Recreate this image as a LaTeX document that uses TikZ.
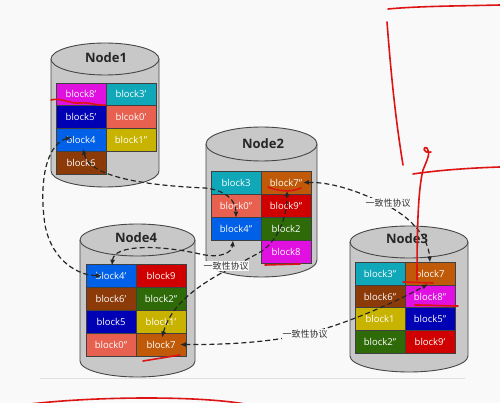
\documentclass[tikz,border=0pt]{standalone}
\usepackage{fontspec}
\setmainfont{Open Sans}
\newfontfamily\cjk{Noto Sans CJK SC}
\usetikzlibrary{arrows.meta}
\definecolor{bgc}{RGB}{249,249,249}
\definecolor{cylgray}{RGB}{200,200,200}
\definecolor{cyledge}{RGB}{70,70,70}
\definecolor{cmag}{RGB}{224,16,224}
\definecolor{cteal}{RGB}{16,168,184}
\definecolor{cdblue}{RGB}{0,0,180}
\definecolor{csalmon}{RGB}{232,96,80}
\definecolor{cblue}{RGB}{0,96,232}
\definecolor{cyel}{RGB}{200,180,0}
\definecolor{cbrown}{RGB}{139,58,8}
\definecolor{corange}{RGB}{192,90,8}
\definecolor{cred}{RGB}{208,0,0}
\definecolor{cgreen}{RGB}{46,106,8}
\definecolor{scrib}{RGB}{222,20,20}
\tikzset{
  cell/.style={rectangle, draw=black!75, line width=0.6pt, minimum width=50pt, minimum height=23pt, inner sep=0pt, text=white, font=\fontsize{9.5}{11}\selectfont},
  title/.style={font=\bfseries\fontsize{13}{14}\selectfont, text=black!85, inner sep=0pt},
  link/.style={draw=black!85, line width=1.2pt, dash pattern=on 5pt off 3pt, {Latex[length=6pt,width=5pt]}-{Latex[length=6pt,width=5pt]}},
  lbl/.style={fill=bgc, inner sep=0.6pt, text=black!80, font=\cjk\fontsize{9}{10}\selectfont},
  redpen/.style={draw=scrib, line width=1.6pt, line cap=round, line join=round},
  cylbody/.style={fill=cylgray, draw=cyledge, line width=0.9pt}
}
\begin{document}
\begin{tikzpicture}[x=1pt,y=-1pt]
\useasboundingbox (0,0) rectangle (500,403);
\fill[bgc] (0,0) rectangle (500,403);
\draw[gray!25, line width=0.6pt] (40,378) -- (465,378);

% cylinders
% Node1
\path[cylbody] (51,59) -- (51,171) arc[start angle=180,end angle=360,x radius=54pt,y radius=16pt] -- (159,59);
\draw[cylbody] (105,59) ellipse[x radius=54pt,y radius=16pt];
\node[title] (t1) at (106,58) {Node1};
% Node2
\path[cylbody] (206,144) -- (206,260) arc[start angle=180,end angle=360,x radius=55.5pt,y radius=17pt] -- (317,144);
\draw[cylbody] (261.5,144) ellipse[x radius=55.5pt,y radius=17pt];
\node[title] (t2) at (263,144) {Node2};
% Node4
\path[cylbody] (80,240) -- (80,361) arc[start angle=180,end angle=360,x radius=57.5pt,y radius=16pt] -- (195,240);
\draw[cylbody] (137.5,240) ellipse[x radius=57.5pt,y radius=16pt];
\node[title] (t4) at (136,238) {Node4};
% Node3
\path[cylbody] (350,242) -- (350,356) arc[start angle=180,end angle=360,x radius=59pt,y radius=16pt] -- (468,242);
\draw[cylbody] (409,242) ellipse[x radius=59pt,y radius=16pt];
\node[title] (t3) at (407,239) {Node3};

% Node1 cells
\node[cell, fill=cmag]    (n1a) at (81,94.4)  {block8'};
\node[cell, fill=cteal]   (n1b) at (131,94.4) {block3'};
\node[cell, fill=cdblue]  (n1c) at (81,117.1) {block5'};
\node[cell, fill=csalmon] (n1d) at (131,117.1) {blcok0'};
\node[cell, fill=cblue]   (n1e) at (81,139.9) {block4};
\node[cell, fill=cyel]    (n1f) at (131,139.9) {block1''};
\node[cell, fill=cbrown]  (n1g) at (81,162.6) {block6};
% Node2 cells
\node[cell, fill=cteal]   (n2a) at (236,182.5) {block3};
\node[cell, fill=corange] (n2b) at (286,182.5) {block7''};
\node[cell, fill=csalmon] (n2c) at (236,205.5) {block0''};
\node[cell, fill=cred]    (n2d) at (286,205.5) {block9''};
\node[cell, fill=cblue]   (n2e) at (236,228.5) {block4''};
\node[cell, fill=cgreen]  (n2f) at (286,228.5) {block2};
\node[cell, fill=cmag]    (n2g) at (286,251.5) {block8};
% Node4 cells
\node[cell, fill=cblue]   (n4a) at (111,275.5) {block4'};
\node[cell, fill=cred]    (n4b) at (161,275.5) {block9};
\node[cell, fill=cbrown]  (n4c) at (111,298.5) {block6'};
\node[cell, fill=cgreen]  (n4d) at (161,298.5) {block2''};
\node[cell, fill=cdblue]  (n4e) at (111,321.5) {block5};
\node[cell, fill=cyel]    (n4f) at (161,321.5) {block1'};
\node[cell, fill=csalmon] (n4g) at (111,344.5) {block0''};
\node[cell, fill=corange] (n4h) at (161,344.5) {block7};
% Node3 cells
\node[cell, fill=cteal]   (n3a) at (380,274.25) {block3''};
\node[cell, fill=corange] (n3b) at (430,274.25) {block7};
\node[cell, fill=cbrown]  (n3c) at (380,296.75) {block6''};
\node[cell, fill=cmag]    (n3d) at (430,296.75) {block8''};
\node[cell, fill=cyel]    (n3e) at (380,319.25) {block1};
\node[cell, fill=cdblue]  (n3f) at (430,319.25) {block5''};
\node[cell, fill=cgreen]  (n3g) at (380,341.75) {block2''};
\node[cell, fill=cred]    (n3h) at (430,341.75) {block9'};

% connectors
\draw[link] ([shift={(2,-3)}]n1e.south) .. controls (90,180) and (160,186) .. (205,188) .. controls (225,190) and (236,200) .. ([shift={(0,1)}]n2e.north);
\draw[link] ([shift={(-9,-3)}]n1e.center) .. controls (45,145) and (39,185) .. (45,225) .. controls (52,262) and (80,276) .. ([shift={(-9,0)}]n4a.center);
\draw[link] ([shift={(1,2)}]n4a.north) .. controls (114,244) and (160,245) .. (200,254) .. controls (222,259) and (232,252) .. ([shift={(-3,0)}]n2e.south);
\draw[link] ([shift={(1,-7)}]n4h.center) .. controls (175,290) and (230,270) .. (262,251) .. controls (280,238) and (287,215) .. ([shift={(1,8)}]n2b.center);
\draw[link] ([shift={(17,0)}]n2b.center) .. controls (330,182) and (355,190) .. (378,201) .. controls (408,214) and (428,235) .. (n3b.north);
\draw[link] ([shift={(19,0)}]n4h.center) .. controls (240,345) and (280,340) .. (305,334) .. controls (345,325) and (400,300) .. ([shift={(-2,-2)}]n3b.south);

% labels
\node[lbl] (l1) at (226,266) {一致性协议};
\node[lbl] (l2) at (388,203) {一致性协议};
\node[lbl] (l3) at (305,334) {一致性协议};

% red annotations
\draw[redpen] (51,100) .. controls (60,97) and (70,104) .. (80,103) .. controls (90,102) and (98,106) .. (105,105);
\draw[redpen] (268,187) .. controls (280,192) and (292,192) .. (301,188);
\draw[redpen] (265,265) -- (300,264);
\draw[redpen] (143,361) -- (180,355);
\draw[redpen] (388,9) .. controls (420,6) and (460,6) .. (500,5);
\draw[redpen] (387,22) .. controls (390,60) and (394,110) .. (403,165);
\draw[redpen] (413,174) .. controls (440,170) and (470,168) .. (500,167);
\draw[redpen] (417,280) .. controls (417,230) and (418,190) .. (423,170) .. controls (427,160) and (431,153) .. (427,148) .. controls (423,145) and (422,154) .. (431,152);
\draw[redpen] (403,282) -- (433,283);
\draw[redpen] (415,305) .. controls (430,305) and (445,306) .. (458,306);
\draw[redpen] (30,404) .. controls (100,396) and (200,396) .. (245,404);
\end{tikzpicture}
\end{document}
